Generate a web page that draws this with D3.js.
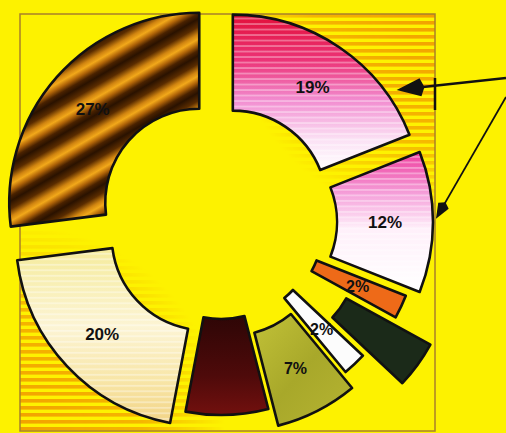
<!DOCTYPE html>
<html>
<head>
<meta charset="utf-8">
<script src="https://cdn.jsdelivr.net/npm/d3@7"></script>
<style>
  html, body { margin: 0; padding: 0; background: #fdf200; }
  svg { display: block; }
</style>
</head>
<body>
<div id="chart"></div>
<script>
// slices, clockwise from 12 o'clock
const values = [19, 12, 2, 4, 2, 7, 7, 20, 27];
const labels = ["19%", "12%", "2%", "", "2%", "7%", "", "20%", "27%"];

// look of each slice (same order)
const fills = ["url(#g19)", "url(#g12)", "#ee6a18", "#1b2a19", "#fcfcfc", "url(#gOlive)", "url(#gMaroon)", "url(#g20)", "url(#g27)"];
const scan = [true, true, false, false, false, false, false, true, false];
const explode = [21, 22, 9, 53, 5, 22, 3, 21, 29];

const W = 506, H = 433;
const cx = 221, cy = 222;
const rIn = 94, rOut = 190;

const svg = d3.select("#chart").append("svg")
  .attr("width", W).attr("height", H);

const defs = svg.append("defs");

function linGrad(id, stops, attrs) {
  const g = defs.append("linearGradient").attr("id", id);
  Object.entries(attrs || { x1: 0, y1: 0, x2: 0, y2: 1 }).forEach(([k, v]) => g.attr(k, v));
  stops.forEach(([o, c]) => g.append("stop").attr("offset", o).attr("stop-color", c));
  return g;
}

linGrad("g19", [[0, "#e2103a"], [0.3, "#ec3478"], [0.55, "#f28cd0"], [0.8, "#fbe0f4"], [1, "#ffffff"]]);
linGrad("g12", [[0, "#ee3c9c"], [0.3, "#f5a0da"], [0.55, "#fff0fa"], [1, "#ffffff"]]);
linGrad("g20", [[0, "#f5eb9c"], [0.45, "#fcf4d4"], [0.75, "#f8e6a8"], [1, "#f2d486"]]);
linGrad("g27", [[0, "#2a1200"], [0.22, "#5a2c00"], [0.42, "#d08410"], [0.55, "#f2a81a"], [0.7, "#b06408"], [0.86, "#4a2200"], [1, "#2a1200"]],
  { gradientUnits: "userSpaceOnUse", spreadMethod: "repeat", x1: 0, y1: 0, x2: 16, y2: 27.7 });
linGrad("gOlive", [[0, "#c2c238"], [0.5, "#a8a82a"], [1, "#b6b432"]], { x1: 0, y1: 0, x2: 1, y2: 1 });
linGrad("gMaroon", [[0, "#2e0606"], [0.6, "#4e0a0a"], [1, "#72100e"]]);

// fine horizontal scan lines
const pScan = defs.append("pattern").attr("id", "scan")
  .attr("patternUnits", "userSpaceOnUse").attr("width", 10).attr("height", 5.5);
pScan.append("rect").attr("width", 10).attr("height", 1.8).attr("fill", "#ffffff").attr("opacity", 0.35);

// orange stripes of the background square
const pBg = defs.append("pattern").attr("id", "bgStripes")
  .attr("patternUnits", "userSpaceOnUse").attr("width", 10).attr("height", 7);
pBg.append("rect").attr("width", 10).attr("height", 3.6).attr("fill", "#f2a000");

const frame = { x: 20, y: 14, w: 415, h: 417 };

// stripes only show in the top-right and bottom-left corners
[["TR", frame.x + frame.w, frame.y], ["BL", frame.x, frame.y + frame.h]].forEach(([id, x, y]) => {
  const rg = defs.append("radialGradient").attr("id", "rg" + id)
    .attr("gradientUnits", "userSpaceOnUse").attr("cx", x).attr("cy", y).attr("r", 205);
  rg.append("stop").attr("offset", 0).attr("stop-color", "#fff");
  rg.append("stop").attr("offset", 0.6).attr("stop-color", "#bbb");
  rg.append("stop").attr("offset", 1).attr("stop-color", "#000");
  defs.append("mask").attr("id", "m" + id)
    .append("rect").attr("width", W).attr("height", H).attr("fill", `url(#rg${id})`);
  svg.append("rect").attr("x", frame.x).attr("y", frame.y).attr("width", frame.w).attr("height", frame.h)
    .attr("fill", "url(#bgStripes)").attr("mask", `url(#m${id})`);
});

svg.append("rect").attr("x", frame.x).attr("y", frame.y).attr("width", frame.w).attr("height", frame.h)
  .attr("fill", "none").attr("stroke", "#a8802a").attr("stroke-width", 1.5);

// donut
const arcs = d3.pie().sort(null).value(d => d)(values);
const arc = d3.arc().innerRadius(rIn).outerRadius(rOut);

function offset(a, i) {
  const mid = (a.startAngle + a.endAngle) / 2;
  return [cx + explode[i] * Math.sin(mid), cy - explode[i] * Math.cos(mid)];
}

const slices = svg.append("g").selectAll("g.slice")
  .data(arcs)
  .join("g")
  .attr("class", "slice")
  .attr("transform", (a, i) => `translate(${offset(a, i)})`);

slices.append("path").attr("d", arc).attr("fill", (a, i) => fills[i]);
slices.filter((a, i) => scan[i]).append("path").attr("d", arc).attr("fill", "url(#scan)");
slices.append("path").attr("d", arc)
  .attr("fill", "none").attr("stroke", "#111").attr("stroke-width", 2.6).attr("stroke-linejoin", "round");

// small slices sit on top of the dark green one
slices.filter((a, i) => i === 2 || i === 4).raise();

slices.append("text")
  .attr("transform", a => `translate(${arc.centroid(a)})`)
  .attr("text-anchor", "middle")
  .attr("dy", "0.36em")
  .style("font-family", "'Liberation Sans', Arial, sans-serif")
  .style("font-weight", "700")
  .style("font-size", (a, i) => values[i] < 10 ? "16px" : "17px")
  .style("fill", "#111")
  .text((a, i) => labels[i]);

// tick on the right edge of the square
svg.append("line").attr("x1", frame.x + frame.w).attr("x2", frame.x + frame.w)
  .attr("y1", 78).attr("y2", 110).attr("stroke", "#111").attr("stroke-width", 2.5);

// callout arrows to the two pink slices
const callouts = [
  { slice: 0, angle: 55, gap: 10, from: [506, 78], head: 24, half: 9, width: 2.6 },
  { slice: 1, angle: 89, gap: 3, from: [506, 97], head: 15, half: 6, width: 1.8 }
];

callouts.forEach(c => {
  const a = arcs[c.slice];
  const [ox, oy] = offset(a, c.slice);
  const t = c.angle * Math.PI / 180;
  const tip = [ox + (rOut + c.gap) * Math.sin(t), oy - (rOut + c.gap) * Math.cos(t)];
  const dx = c.from[0] - tip[0], dy = c.from[1] - tip[1];
  const len = Math.hypot(dx, dy), ux = dx / len, uy = dy / len;
  const base = [tip[0] + ux * c.head, tip[1] + uy * c.head];
  svg.append("line")
    .attr("x1", c.from[0]).attr("y1", c.from[1])
    .attr("x2", base[0]).attr("y2", base[1])
    .attr("stroke", "#111").attr("stroke-width", c.width);
  svg.append("path")
    .attr("d", d3.line()([
      tip,
      [base[0] - uy * c.half, base[1] + ux * c.half],
      [base[0] + ux * 4, base[1] + uy * 4],
      [base[0] + uy * c.half, base[1] - ux * c.half]
    ]) + "Z")
    .attr("fill", "#111");
});
</script>
</body>
</html>
